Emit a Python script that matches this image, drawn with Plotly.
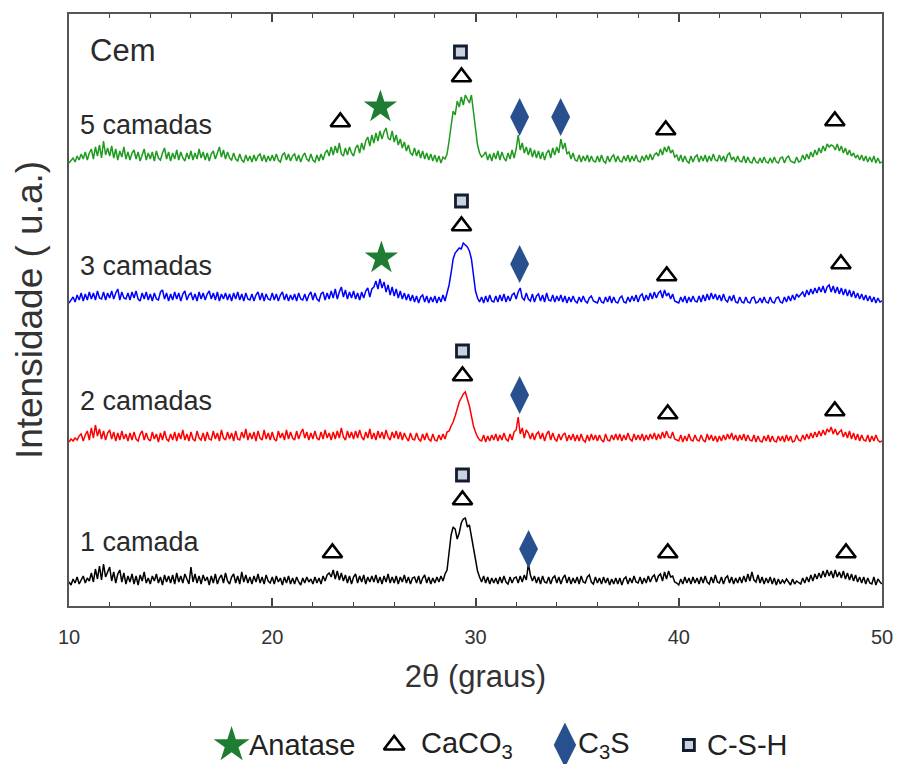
import numpy as np
import plotly.graph_objects as go

# ---------------- data ----------------
THETA_START = 10.0
THETA_STEP = 0.1

samples = ["1 camada", "2 camadas", "3 camadas", "5 camadas"]

# relative intensities (a.u.), one value every 0.1 degree, 10.0 .. 50.0
i_1camada = [
    3,0,6,2,8,1,5,9,2,7,   4,12,3,16,6,19,5,21,8,14,
    18,4,13,2,11,15,3,12,1,9,   3,11,1,9,0,10,4,13,2,7,
    1,9,4,11,2,8,0,10,3,9,   2,10,1,12,3,9,2,11,5,1,
    18,3,11,2,9,1,10,4,8,0,   9,2,11,1,7,10,2,12,4,1,
    8,11,2,9,1,13,3,10,2,8,   1,9,3,11,2,8,1,10,4,2,
    8,1,9,3,7,0,8,2,9,1,   7,1,8,3,0,7,2,8,3,6,
    1,8,2,7,1,9,4,10,12,8,   15,6,14,5,12,4,10,2,9,1,
    8,11,2,9,3,10,1,8,3,9,   3,10,2,8,1,9,3,11,2,8,
    2,9,1,8,3,10,2,8,1,7,   8,2,9,1,7,10,2,8,1,7,
    2,8,3,9,4,11,15,30,50,58,   56,46,52,62,66,67,58,60,48,40,
    26,14,8,3,9,2,8,1,7,2,   7,1,8,2,9,3,1,8,2,7,
    8,2,9,3,10,5,21,10,4,9,   2,8,1,9,3,2,8,1,7,9,
    2,8,1,7,10,2,8,1,7,2,   8,1,9,3,2,8,10,3,1,8,
    2,7,1,8,2,7,0,6,1,7,   1,7,0,6,8,1,7,2,9,3,
    2,8,1,7,2,9,3,8,10,3,   9,11,4,13,6,14,8,9,3,2,
    0,6,1,8,2,7,1,8,2,7,   1,8,2,9,3,1,8,2,10,3,
    2,8,1,7,9,2,8,1,7,2,   8,2,9,3,11,4,13,5,3,10,
    2,8,1,7,2,8,1,7,0,6,   1,5,2,6,3,0,6,1,4,2,
    1,7,2,8,3,10,4,11,6,12,   7,14,8,15,9,14,7,15,8,13,
    7,14,6,12,5,11,4,10,3,8,   2,8,1,7,2,1,8,0,6,3,
    1,
]

i_2camadas = [
    0,3,1,4,2,6,8,1,7,11,   2,14,4,17,6,13,3,11,2,9,
    12,3,10,1,9,2,11,3,8,1,   9,2,10,3,1,8,11,2,9,3,
    1,10,3,8,0,9,2,11,3,1,   8,2,10,1,9,3,12,2,8,1,
    10,3,1,11,4,2,9,1,10,3,   2,11,3,9,1,12,4,2,10,3,
    9,1,11,3,2,10,4,13,2,9,   3,10,1,11,4,2,12,3,9,2,
    10,3,1,11,4,9,2,12,3,10,   4,2,11,3,9,13,4,10,2,9,
    3,11,4,2,10,3,12,4,9,2,   10,3,11,4,14,5,2,11,4,10,
    3,11,4,12,5,2,10,4,13,3,   9,2,11,4,10,3,12,5,2,10,
    4,11,3,10,2,9,4,1,9,3,   2,9,3,1,8,2,9,3,1,8,
    2,1,7,2,8,3,10,11,16,20,   26,33,40,44,48,50,44,36,26,16,
    10,5,2,1,7,0,6,1,7,2,   8,1,7,2,9,3,1,8,2,10,
    12,25,8,14,4,12,9,3,9,2,   8,10,3,9,1,8,11,2,9,3,
    1,8,2,7,9,1,7,2,8,1,   7,1,8,2,0,7,1,8,2,7,
    1,7,2,0,8,2,1,7,2,8,   2,8,1,7,2,9,3,1,8,2,
    7,2,8,1,7,2,8,3,9,2,   8,3,10,4,11,5,4,10,3,2,
    1,7,0,6,1,8,2,1,7,2,   1,7,2,0,8,2,7,1,6,0,
    6,1,7,2,8,3,9,2,7,1,   7,2,8,1,7,2,1,7,0,6,
    1,0,6,1,7,0,6,1,0,6,   1,6,0,7,1,6,0,1,7,2,
    1,7,2,8,3,9,4,10,5,11,   6,12,7,13,10,15,8,13,7,10,
    12,5,10,4,11,3,9,2,8,1,   7,2,1,7,0,6,1,7,2,0,
    1,
]

i_3camadas = [
    0,3,6,1,8,3,10,2,9,3,   11,4,10,3,12,5,4,11,3,10,
    5,12,4,10,14,3,11,5,4,10,   3,11,5,12,4,2,10,4,11,3,
    9,2,10,4,3,11,13,4,10,2,   9,3,11,4,10,2,9,12,3,8,
    10,3,9,2,11,4,10,3,9,12,   4,10,3,11,2,9,4,10,3,9,
    2,10,4,11,3,9,2,10,4,3,   9,2,8,11,3,10,2,9,4,3,
    10,3,9,2,8,11,3,9,2,8,   3,9,2,10,4,3,9,2,8,11,
    3,10,4,2,9,11,3,10,4,12,   5,14,4,11,16,6,13,4,11,5,
    12,4,10,3,11,5,12,15,6,14,   16,22,14,24,15,21,11,18,8,16,
    7,14,5,12,4,10,3,9,2,8,   1,7,0,6,8,1,7,0,6,1,
    7,0,6,1,8,2,9,18,30,44,   50,52,55,54,60,58,56,52,44,28,
    12,5,1,6,0,7,1,8,2,1,   7,1,8,2,9,1,7,2,8,10,
    4,11,15,5,3,10,4,2,9,1,   7,9,2,8,1,10,3,2,8,1,
    7,2,8,1,7,0,6,1,7,2,   0,6,1,7,2,0,5,7,2,1,
    0,6,1,0,6,1,7,0,6,1,   0,5,7,1,0,6,1,7,2,8,
    1,7,9,2,8,3,10,4,11,5,   10,12,5,13,7,10,4,9,2,1,
    0,6,1,7,0,6,1,7,2,1,   7,1,8,2,9,3,10,4,9,3,
    8,2,9,3,1,7,2,8,1,0,   6,1,0,6,1,0,5,6,0,1,
    5,0,6,1,0,6,1,0,5,6,   1,0,6,1,7,2,8,3,9,6,
    9,11,6,13,8,14,9,15,10,16,   11,17,10,16,18,11,17,10,16,9,
    15,8,14,7,13,6,12,5,10,4,   9,3,8,2,7,1,6,0,5,1,
    2,
]

i_5camadas = [
    0,2,5,1,7,3,9,4,11,3,   10,14,4,16,7,18,5,22,8,15,
    7,17,5,14,3,12,6,16,4,11,   3,10,13,4,11,2,9,14,3,10,
    4,11,2,12,5,3,10,15,4,11,   2,10,4,13,3,11,5,2,10,4,
    12,3,10,4,14,5,11,3,10,2,   9,12,4,11,16,6,13,4,11,5,
    3,10,4,2,9,3,1,8,2,7,   1,8,2,7,9,2,8,1,7,2,
    8,2,9,3,1,8,10,3,9,2,   7,9,2,8,1,7,10,4,2,9,
    3,1,8,2,9,3,10,13,7,16,   8,17,10,20,9,7,15,8,16,10,
    7,15,18,10,20,13,22,26,17,28,   20,30,22,32,24,31,35,25,23,32,
    21,28,18,24,15,21,12,18,10,8,   15,7,13,5,12,4,10,3,9,2,
    8,1,7,0,6,4,9,22,40,52,   48,62,56,66,58,68,64,60,68,52,
    32,18,10,6,8,11,3,9,2,10,   4,12,3,11,5,2,10,4,13,5,
    14,28,13,20,10,16,8,15,6,13,   5,12,4,11,3,10,13,5,15,8,
    16,10,24,14,20,9,11,4,10,3,   2,8,1,7,2,8,1,7,2,1,
    7,1,8,2,0,7,1,6,8,1,   7,2,1,7,2,8,1,7,2,8,
    2,1,7,2,8,3,9,3,8,10,   7,14,8,16,11,17,10,13,6,8,
    2,8,1,7,2,0,7,1,6,8,   1,7,2,8,1,7,2,9,3,2,
    8,2,7,1,8,10,3,6,1,7,   2,1,7,0,6,1,0,6,1,0,
    5,0,6,1,0,5,0,6,1,0,   5,6,0,5,7,2,1,0,6,1,
    2,8,3,9,4,11,6,13,8,15,   10,17,12,19,16,18,17,13,19,12,
    17,10,15,8,13,7,10,5,8,3,   8,2,7,1,6,1,7,0,5,0,
    1,
]

intensities = [i_1camada, i_2camadas, i_3camadas, i_5camadas]

# phase identification markers: (sample index, 2theta, phase)
peak_sample = [3, 3, 3, 3, 3, 3, 3, 3,
               2, 2, 2, 2, 2, 2,
               1, 1, 1, 1, 1,
               0, 0, 0, 0, 0, 0]
peak_theta = [29.26, 29.31, 25.32, 23.35, 32.17, 34.19, 39.36, 47.68,
              29.31, 29.31, 25.37, 32.17, 39.41, 47.98,
              29.36, 29.36, 32.17, 39.46, 47.68,
              29.36, 29.36, 22.96, 32.61, 39.46, 48.23]
peak_phase = ["C-S-H", "CaCO3", "Anatase", "CaCO3", "C3S", "C3S", "CaCO3", "CaCO3",
              "C-S-H", "CaCO3", "Anatase", "C3S", "CaCO3", "CaCO3",
              "C-S-H", "CaCO3", "C3S", "CaCO3", "CaCO3",
              "C-S-H", "CaCO3", "CaCO3", "C3S", "CaCO3", "CaCO3"]
# height of marker above the curve baseline
peak_height = [111, 86, 56, 41, 46, 46, 33, 42,
               102, 77, 45, 39, 27, 39,
               91, 66, 47, 28, 31,
               110, 85, 32, 36, 32, 32]

phases = ["Anatase", "CaCO3", "C3S", "C-S-H"]
phase_labels = {"Anatase": "Anatase", "CaCO3": "CaCO<sub>3</sub>",
                "C3S": "C<sub>3</sub>S", "C-S-H": "C-S-H"}

# ---------------- layout / style ----------------
offsets = [21, 164, 303, 443]          # vertical stacking of the patterns
colors = ["#000000", "#ff0000", "#0000ff", "#1f9a1f"]
label_dy = [43, 41, 37, 38]

phase_style = {
    "Anatase": dict(symbol="star", size=25, color="#1e7d32",
                    line=dict(width=0)),
    "CaCO3": dict(symbol="triangle-up-open", size=17, color="#000000",
                  line=dict(width=2.6, color="#000000")),
    "C3S": dict(symbol="diamond-tall", size=27, color="#28508e",
                line=dict(width=0)),
    "C-S-H": dict(symbol="square", size=12, color="#c9d3df",
                  line=dict(width=2.8, color="#141c30")),
}
legend_size = {"Anatase": 27, "CaCO3": 18, "C3S": 32, "C-S-H": 11}

# manual legend row (drawn on a hidden axis pair below the plot)
legend_key_x = [18.0, 26.0, 34.4, 40.5]
legend_text_x = [18.75, 27.2, 34.95, 41.3]

FONT = "Liberation Sans"
n = len(i_1camada)
theta = np.round(THETA_START + THETA_STEP * np.arange(n), 2)

fig = go.Figure()
for k, s in enumerate(samples):
    y = np.array(intensities[k], dtype=float) + offsets[k]
    fig.add_trace(go.Scatter(x=theta, y=y, mode="lines", name=s,
                             line=dict(color=colors[k], width=1.5),
                             showlegend=False, hoverinfo="skip"))

for j, ph in enumerate(phases):
    xs, ys = [], []
    for si, th, p, h in zip(peak_sample, peak_theta, peak_phase, peak_height):
        if p == ph:
            xs.append(th)
            ys.append(offsets[si] + h)
    fig.add_trace(go.Scatter(x=xs, y=ys, mode="markers",
                             name=phase_labels[ph],
                             marker=phase_style[ph], showlegend=False))
    # legend key + label
    key_style = dict(phase_style[ph])
    key_style["size"] = legend_size[ph]
    fig.add_trace(go.Scatter(x=[legend_key_x[j]], y=[0], mode="markers",
                             xaxis="x2", yaxis="y2",
                             marker=key_style, showlegend=False,
                             cliponaxis=False, hoverinfo="skip"))
    fig.add_annotation(x=legend_text_x[j], y=0, xref="x2", yref="y2",
                       text=phase_labels[ph],
                       xanchor="left", yanchor="middle", showarrow=False,
                       font=dict(family=FONT, size=29, color="#222"))

for k, s in enumerate(samples):
    fig.add_annotation(x=10.45, y=offsets[k] + label_dy[k], text=s,
                       xanchor="left", yanchor="middle", showarrow=False,
                       font=dict(family=FONT, size=27, color="#2a2a2a"))
fig.add_annotation(x=10.95, y=556, text="Cem", xanchor="left",
                   yanchor="middle", showarrow=False,
                   font=dict(family=FONT, size=31, color="#2a2a2a"))

H, TOP = 764, 14
plot_bottom_px = 606
paper_h = H - TOP

fig.update_layout(
    width=897, height=H,
    margin=dict(l=69, r=15, t=TOP, b=0, autoexpand=False),
    paper_bgcolor="white", plot_bgcolor="white",
    font=dict(family=FONT, color="#333333"),
    showlegend=False,
    xaxis=dict(range=[10, 50], tickmode="array", anchor="y",
               tickvals=[10, 20, 30, 40, 50], ticks="inside", ticklen=8,
               tickwidth=1.5, tickcolor="#444",
               minor=dict(dtick=2, ticks="inside", ticklen=4,
                          tickcolor="#444", tickwidth=1),
               showline=True, linewidth=2, linecolor="#555", mirror="ticks",
               showgrid=False, zeroline=False, ticklabelstandoff=12,
               tickfont=dict(family=FONT, size=20, color="#333"),
               title=dict(text="2θ (graus)", standoff=18,
                          font=dict(family=FONT, size=31, color="#333"))),
    yaxis=dict(range=[0, 592], showticklabels=False, ticks="",
               domain=[(H - plot_bottom_px) / paper_h, 1],
               showline=True, linewidth=2, linecolor="#555", mirror=True,
               showgrid=False, zeroline=False,
               title=dict(text="Intensidade ( u.a.)", standoff=13,
                          font=dict(family=FONT, size=37, color="#333"))),
    xaxis2=dict(range=[10, 50], anchor="y2", visible=False),
    yaxis2=dict(range=[-19, 56], domain=[0, 75 / paper_h], anchor="x2",
                visible=False),
)

fig.write_html("out.html")
